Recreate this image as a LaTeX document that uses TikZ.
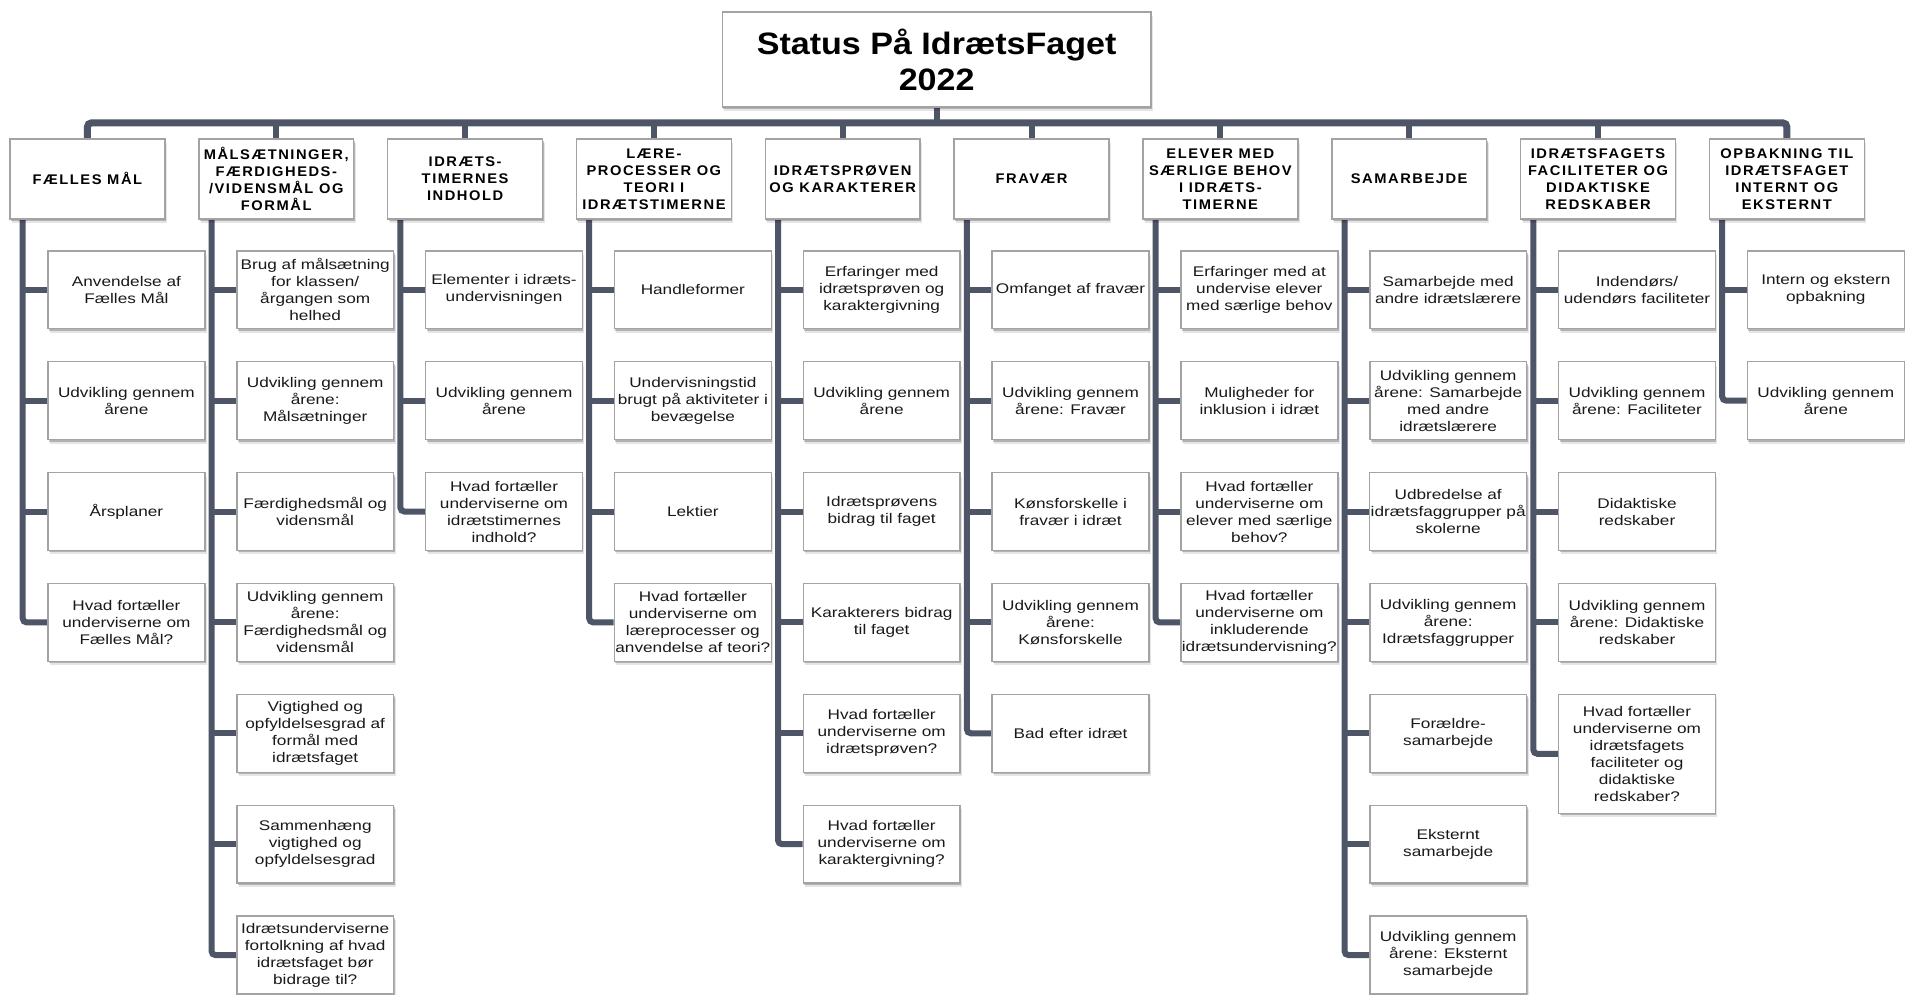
\documentclass[tikz,border=0pt]{standalone}
\usepackage{fontspec}
\usepackage{tikz}
\usetikzlibrary{calc}
\usetikzlibrary{backgrounds}
\usetikzlibrary{shadows}
\newfontfamily\titelfont[FakeStretch=1.1]{Liberation Sans}
\newfontfamily\katfont[FakeStretch=1.05,LetterSpace=11]{Liberation Sans}
\newfontfamily\emnefont[FakeStretch=1.23]{Liberation Sans}
\definecolor{grenfarve}{HTML}{4E5567}
\definecolor{kantfarve}{HTML}{A3A3A3}
\tikzset{
	blodskygge/.style={drop shadow={shadow xshift=1pt,shadow yshift=-2pt,opacity=.22,fill=black},
		drop shadow={shadow xshift=2pt,shadow yshift=-4pt,opacity=.10,fill=black}},
	titelboks/.style={draw=kantfarve,line width=1.5pt,fill=white,blodskygge,minimum width=429pt,minimum height=95pt,
		align=center,inner sep=2pt,font=\titelfont\bfseries\fontsize{31}{36}\selectfont},
	katboks/.style={draw=kantfarve,line width=1.5pt,fill=white,blodskygge,minimum width=155pt,minimum height=80pt,
		align=center,inner sep=1pt,font=\katfont\bfseries\fontsize{14}{17}\selectfont},
	emneboks/.style={draw=kantfarve,line width=1.5pt,fill=white,blodskygge,minimum width=157pt,minimum height=78pt,
		align=center,inner sep=1pt,text=black!90,font=\emnefont\fontsize{14}{17}\selectfont},
	branch/.style={draw=grenfarve,line width=6pt,rounded corners=4pt},
}
% lodret gren fra kategori #1 ned til sidste boks #2, korte streger til boksene #3
\newcommand\gren[3]{
	\begin{pgfonlayer}{background}
		\coordinate (g#1) at ($(kat#1.south west)+(13.5,0)$);
		\draw[branch] (g#1) |- (#2.west);
		\foreach \b in {#3} {\draw[branch] (\b.west) -- (\b.west -| g#1);}
	\end{pgfonlayer}
}
\begin{document}
\begin{tikzpicture}[x=1pt,y=-1pt]
		\begin{pgfonlayer}{background}
			\path[fill=white,use as bounding box] (0,0) rectangle (1905,995);
		\end{pgfonlayer}
		\node[titelboks] (titel) at (937.5,59.5) {Status På IdrætsFaget\\2022};
		% kategorier
		\node[katboks] (kat1) at (87.5,179) {FÆLLES MÅL};
		\node[katboks] (kat2) at (276.5,179) {MÅLSÆTNINGER,\\FÆRDIGHEDS-\\/VIDENSMÅL OG\\FORMÅL};
		\node[katboks] (kat3) at (465.5,179) {IDRÆTS-\\TIMERNES\\INDHOLD};
		\node[katboks] (kat4) at (654.5,179) {LÆRE-\\PROCESSER OG\\TEORI I\\IDRÆTSTIMERNE};
		\node[katboks] (kat5) at (843.5,179) {IDRÆTSPRØVEN\\OG KARAKTERER};
		\node[katboks] (kat6) at (1032.5,179) {FRAVÆR};
		\node[katboks] (kat7) at (1221.5,179) {ELEVER MED\\SÆRLIGE BEHOV\\I IDRÆTS-\\TIMERNE};
		\node[katboks] (kat8) at (1410.5,179) {SAMARBEJDE};
		\node[katboks] (kat9) at (1599.5,179) {IDRÆTSFAGETS\\FACILITETER OG\\DIDAKTISKE\\REDSKABER};
		\node[katboks] (kat10) at (1788.5,179) {OPBAKNING TIL\\IDRÆTSFAGET\\INTERNT OG\\EKSTERNT};
		% 1
		\node[emneboks] (kat1a) at (126.5,290) {Anvendelse af\\Fælles Mål};
		\node[emneboks] (kat1b) at (126.5,401) {Udvikling gennem\\årene};
		\node[emneboks] (kat1c) at (126.5,512) {Årsplaner};
		\node[emneboks] (kat1d) at (126.5,623) {Hvad fortæller\\underviserne om\\Fælles Mål?};
		% 2
		\node[emneboks] (kat2a) at (315.5,290) {Brug af målsætning\\for klassen/\\årgangen som\\helhed};
		\node[emneboks] (kat2b) at (315.5,401) {Udvikling gennem\\årene:\\Målsætninger};
		\node[emneboks] (kat2c) at (315.5,512) {Færdighedsmål og\\vidensmål};
		\node[emneboks] (kat2d) at (315.5,623) {Udvikling gennem\\årene:\\Færdighedsmål og\\vidensmål};
		\node[emneboks] (kat2e) at (315.5,734) {Vigtighed og\\opfyldelsesgrad af\\formål med\\idrætsfaget};
		\node[emneboks] (kat2f) at (315.5,845) {Sammenhæng\\vigtighed og\\opfyldelsesgrad};
		\node[emneboks] (kat2g) at (315.5,956) {Idrætsunderviserne\\fortolkning af hvad\\idrætsfaget bør\\bidrage til?};
		% 3
		\node[emneboks] (kat3a) at (504.5,290) {Elementer i idræts-\\undervisningen};
		\node[emneboks] (kat3b) at (504.5,401) {Udvikling gennem\\årene};
		\node[emneboks] (kat3c) at (504.5,512) {Hvad fortæller\\underviserne om\\idrætstimernes\\indhold?};
		% 4
		\node[emneboks] (kat4a) at (693.5,290) {Handleformer};
		\node[emneboks] (kat4b) at (693.5,401) {Undervisningstid\\brugt på aktiviteter i\\bevægelse};
		\node[emneboks] (kat4c) at (693.5,512) {Lektier};
		\node[emneboks] (kat4d) at (693.5,623) {Hvad fortæller\\underviserne om\\læreprocesser og\\anvendelse af teori?};
		% 5
		\node[emneboks] (kat5a) at (882.5,290) {Erfaringer med\\idrætsprøven og\\karaktergivning};
		\node[emneboks] (kat5b) at (882.5,401) {Udvikling gennem\\årene};
		\node[emneboks] (kat5c) at (882.5,512) {Idrætsprøvens\\bidrag til faget};
		\node[emneboks] (kat5d) at (882.5,623) {Karakterers bidrag\\til faget};
		\node[emneboks] (kat5e) at (882.5,734) {Hvad fortæller\\underviserne om\\idrætsprøven?};
		\node[emneboks] (kat5f) at (882.5,845) {Hvad fortæller\\underviserne om\\karaktergivning?};
		% 6
		\node[emneboks] (kat6a) at (1071.5,290) {Omfanget af fravær};
		\node[emneboks] (kat6b) at (1071.5,401) {Udvikling gennem\\årene: Fravær};
		\node[emneboks] (kat6c) at (1071.5,512) {Kønsforskelle i\\fravær i idræt};
		\node[emneboks] (kat6d) at (1071.5,623) {Udvikling gennem\\årene:\\Kønsforskelle};
		\node[emneboks] (kat6e) at (1071.5,734) {Bad efter idræt};
		% 7
		\node[emneboks] (kat7a) at (1260.5,290) {Erfaringer med at\\undervise elever\\med særlige behov};
		\node[emneboks] (kat7b) at (1260.5,401) {Muligheder for\\inklusion i idræt};
		\node[emneboks] (kat7c) at (1260.5,512) {Hvad fortæller\\underviserne om\\elever med særlige\\behov?};
		\node[emneboks] (kat7d) at (1260.5,623) {Hvad fortæller\\underviserne om\\inkluderende\\idrætsundervisning?};
		% 8
		\node[emneboks] (kat8a) at (1449.5,290) {Samarbejde med\\andre idrætslærere};
		\node[emneboks] (kat8b) at (1449.5,401) {Udvikling gennem\\årene: Samarbejde\\med andre\\idrætslærere};
		\node[emneboks] (kat8c) at (1449.5,512) {Udbredelse af\\idrætsfaggrupper på\\skolerne};
		\node[emneboks] (kat8d) at (1449.5,623) {Udvikling gennem\\årene:\\Idrætsfaggrupper};
		\node[emneboks] (kat8e) at (1449.5,734) {Forældre-\\samarbejde};
		\node[emneboks] (kat8f) at (1449.5,845) {Eksternt\\samarbejde};
		\node[emneboks] (kat8g) at (1449.5,956) {Udvikling gennem\\årene: Eksternt\\samarbejde};
		% 9
		\node[emneboks] (kat9a) at (1638.5,290) {Indendørs/\\udendørs faciliteter};
		\node[emneboks] (kat9b) at (1638.5,401) {Udvikling gennem\\årene: Faciliteter};
		\node[emneboks] (kat9c) at (1638.5,512) {Didaktiske\\redskaber};
		\node[emneboks] (kat9d) at (1638.5,623) {Udvikling gennem\\årene: Didaktiske\\redskaber};
		\node[emneboks,minimum height=119pt] (kat9e) at (1638.5,754.5) {Hvad fortæller\\underviserne om\\idrætsfagets\\faciliteter og\\didaktiske\\redskaber?};
		% 10
		\node[emneboks] (kat10a) at (1827.5,290) {Intern og ekstern\\opbakning};
		\node[emneboks] (kat10b) at (1827.5,401) {Udvikling gennem\\årene};
		% stamme og tværbjælke
		\begin{pgfonlayer}{background}
			\coordinate (bar) at (937.5,123);
			\draw[branch,line width=7pt] (kat1.north) -- (kat1.north |- bar) -| (kat10.north);
			\draw[branch] (titel.south) -- (bar);
			\foreach \i in {2,...,9} {\draw[branch] (kat\i.north) -- (kat\i.north |- bar);}
		\end{pgfonlayer}
		\gren{1}{kat1d}{kat1a,kat1b,kat1c}
		\gren{2}{kat2g}{kat2a,kat2b,kat2c,kat2d,kat2e,kat2f}
		\gren{3}{kat3c}{kat3a,kat3b}
		\gren{4}{kat4d}{kat4a,kat4b,kat4c}
		\gren{5}{kat5f}{kat5a,kat5b,kat5c,kat5d,kat5e}
		\gren{6}{kat6e}{kat6a,kat6b,kat6c,kat6d}
		\gren{7}{kat7d}{kat7a,kat7b,kat7c}
		\gren{8}{kat8g}{kat8a,kat8b,kat8c,kat8d,kat8e,kat8f}
		\gren{9}{kat9e}{kat9a,kat9b,kat9c,kat9d}
		\gren{10}{kat10b}{kat10a}
	\end{tikzpicture}
\end{document}
